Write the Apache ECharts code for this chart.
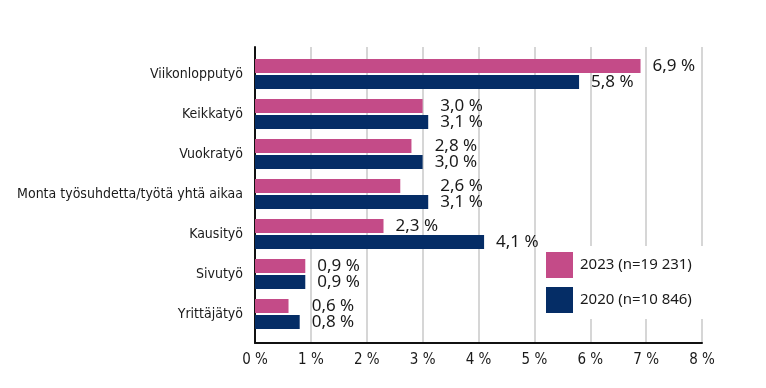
<!DOCTYPE html>
<html><head><meta charset="utf-8">
<script src="https://cdn.jsdelivr.net/npm/echarts@6/dist/echarts.min.js"></script>
<style>html,body{margin:0;padding:0;background:#fff}#c{width:766px;height:388px}</style>
</head><body><div id="c"></div>
<script>
const categories = ['Viikonlopputyö','Keikkatyö','Vuokratyö','Monta työsuhdetta/työtä yhtä aikaa','Kausityö','Sivutyö','Yrittäjätyö'];
const values2023 = [6.9, 3.0, 2.8, 2.6, 2.3, 0.9, 0.6];
const values2020 = [5.8, 3.1, 3.0, 3.1, 4.1, 0.9, 0.8];
const seriesNames = ['2023 (n=19 231)', '2020 (n=10 846)'];
const xTicks = [0,1,2,3,4,5,6,7,8];
// label style: whether the two labels in a category share a column
const alignedLabels = [false, true, true, true, false, true, true];

const GL = 255, GR = 64;
const ppu = (766 - GL - GR) / (xTicks[xTicks.length-1] - xTicks[0]);
const fmt = v => v.toFixed(1).replace('.', ',') + ' %';
const PINK = '#C44B88', NAVY = '#052D66';

function mk(vals, other) {
  return vals.map((v, i) => {
    const m = Math.max(v, other[i]);
    const off = alignedLabels[i] ? (m - v) * ppu : 0;
    return { value: v, label: { offset: [off, 0] } };
  });
}

const chart = echarts.init(document.getElementById('c'), null, {renderer: 'canvas'});
chart.setOption({
  animation: false,
  backgroundColor: '#fff',
  grid: [
    {left: GL, right: GR, top: 47, bottom: 45},
    {left: GL, right: GR, top: 54, bottom: 54}
  ],
  xAxis: [
    {gridIndex: 0, type: 'value', min: xTicks[0], max: xTicks[xTicks.length-1], interval: 1,
     axisLine: {show: true, lineStyle: {color: '#111', width: 2}},
     axisTick: {show: false},
     splitLine: {show: true, lineStyle: {color: '#c8c8c8', width: 1.5}},
     axisLabel: {formatter: v => v + ' %', color: '#1a1a1a', fontFamily: 'DejaVu Sans Condensed, DejaVu Sans', fontSize: 15, fontWeight: 500, margin: 10}},
    {gridIndex: 1, type: 'value', min: xTicks[0], max: xTicks[xTicks.length-1], show: false}
  ],
  yAxis: [
    {gridIndex: 0, type: 'category', data: categories, inverse: true,
     axisLine: {show: true, lineStyle: {color: '#111', width: 2}},
     axisTick: {show: false}, axisLabel: {show: false}, splitLine: {show: false}},
    {gridIndex: 1, type: 'category', data: categories, inverse: true,
     axisLine: {show: false}, axisTick: {show: false},
     axisLabel: {color: '#1a1a1a', fontFamily: 'DejaVu Sans Condensed, Roboto', fontSize: 14, margin: 12}}
  ],
  legend: {
    orient: 'vertical', left: 540, top: 246,
    backgroundColor: '#fff', padding: [6, 14, 6, 6],
    itemWidth: 27, itemHeight: 26, itemGap: 9,
    icon: 'rect',
    textStyle: {color: '#1a1a1a', fontFamily: 'Noto Sans', fontSize: 15, padding: [0,0,0,2]},
    data: seriesNames
  },
  series: [
    {name: seriesNames[0], type: 'bar', xAxisIndex: 1, yAxisIndex: 1,
     data: mk(values2023, values2020), barWidth: 14, barGap: '14%',
     itemStyle: {color: PINK},
     label: {show: true, position: 'right', distance: 12, formatter: p => fmt(p.value),
       color: '#1a1a1a', fontFamily: 'Noto Sans', fontSize: 17}},
    {name: seriesNames[1], type: 'bar', xAxisIndex: 1, yAxisIndex: 1,
     data: mk(values2020, values2023), barWidth: 14, barGap: '14%',
     itemStyle: {color: NAVY},
     label: {show: true, position: 'right', distance: 12, formatter: p => fmt(p.value),
       color: '#1a1a1a', fontFamily: 'Noto Sans', fontSize: 17}}
  ]
});
</script></body></html>
